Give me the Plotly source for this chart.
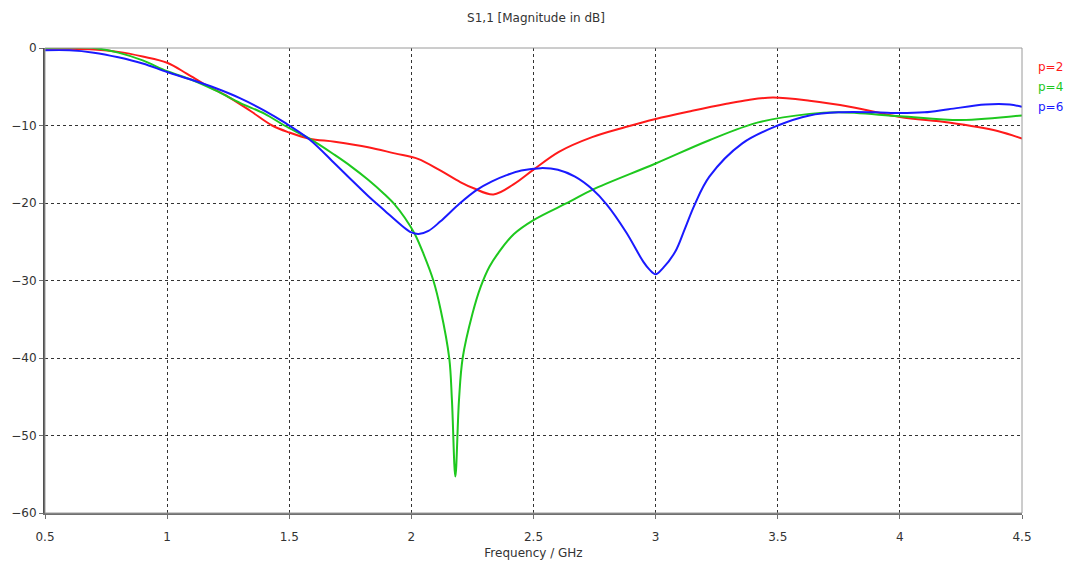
import plotly.graph_objects as go

# p=2 (red)
red_x = [0.5, 0.6, 0.7, 0.8, 0.9, 1.0, 1.08, 1.16, 1.25, 1.34, 1.43, 1.5, 1.583, 1.686, 1.823, 1.932, 2.027, 2.118, 2.2, 2.255, 2.336, 2.418, 2.5, 2.604, 2.74, 2.877, 3.0, 3.15, 3.29, 3.38, 3.48, 3.63, 3.8, 4.0, 4.2, 4.4, 4.5]
red_y = [-0.1, -0.1, -0.2, -0.5, -1.1, -1.9, -3.3, -4.8, -6.3, -8.1, -10.0, -10.9, -11.7, -12.1, -12.8, -13.6, -14.3, -15.8, -17.3, -18.1, -18.9, -17.6, -15.7, -13.4, -11.5, -10.2, -9.15, -8.1, -7.2, -6.7, -6.4, -6.8, -7.6, -8.9, -9.6, -10.7, -11.7]

# p=4 (green)
green_x = [0.5, 0.6, 0.7, 0.8, 0.9, 1.0, 1.1, 1.2, 1.3, 1.4, 1.48, 1.583, 1.686, 1.754, 1.823, 1.891, 1.932, 1.973, 2.014, 2.05, 2.09, 2.12, 2.155, 2.166, 2.18, 2.195, 2.21, 2.25, 2.284, 2.32, 2.357, 2.42, 2.5, 2.65, 2.74, 3.0, 3.22, 3.42, 3.63, 3.75, 4.0, 4.25, 4.5]
green_y = [0.0, 0.05, 0.0, -0.6, -1.6, -3.0, -4.1, -5.5, -7.1, -8.5, -10.0, -11.7, -13.8, -15.3, -17.0, -18.9, -20.2, -21.9, -24.0, -26.6, -30.0, -33.8, -40.0, -45.4, -55.3, -45.4, -40.0, -34.3, -30.8, -28.2, -26.4, -24.0, -22.2, -19.8, -18.3, -14.9, -11.9, -9.6, -8.5, -8.3, -8.8, -9.3, -8.7]

# p=6 (blue)
blue_x = [0.5, 0.6, 0.7, 0.8, 0.9, 1.0, 1.1, 1.2, 1.3, 1.4, 1.48, 1.583, 1.686, 1.754, 1.823, 1.891, 1.96, 2.0, 2.03, 2.07, 2.118, 2.2, 2.268, 2.33, 2.39, 2.45, 2.53, 2.6, 2.67, 2.74, 2.8, 2.88, 2.95, 2.975, 3.0, 3.03, 3.08, 3.12, 3.16, 3.22, 3.355, 3.5, 3.63, 3.75, 3.9, 4.0, 4.1, 4.2, 4.35, 4.45, 4.5]
blue_y = [-0.3, -0.3, -0.6, -1.2, -2.0, -3.1, -4.1, -5.2, -6.5, -8.1, -9.6, -11.8, -14.9, -17.0, -19.1, -21.0, -22.9, -23.8, -24.0, -23.6, -22.4, -20.0, -18.3, -17.2, -16.4, -15.8, -15.5, -15.7, -16.6, -18.2, -20.2, -23.8, -27.6, -28.6, -29.2, -28.4, -26.3, -23.3, -20.2, -16.6, -12.3, -10.0, -8.7, -8.3, -8.3, -8.4, -8.3, -7.9, -7.3, -7.3, -7.6]

series_names = ["p=2", "p=4", "p=6"]
series_colors = ["#ff1a1a", "#1ec81e", "#1a1aff"]

x_ticks = [0.5, 1, 1.5, 2, 2.5, 3, 3.5, 4, 4.5]
x_tick_text = ["0.5", "1", "1.5", "2", "2.5", "3", "3.5", "4", "4.5"]
y_ticks = [0, -10, -20, -30, -40, -50, -60]

FONT = "DejaVu Sans"
TXT = "#333333"

fig = go.Figure()
for (xs, ys), name, col in zip([(red_x, red_y), (green_x, green_y), (blue_x, blue_y)], series_names, series_colors):
    fig.add_trace(go.Scatter(x=xs, y=ys, mode="lines", name=name,
                             line=dict(color=col, width=2, shape="spline", smoothing=1.0),
                             showlegend=False))

# legend as coloured text
for i, (name, col) in enumerate(zip(series_names, series_colors)):
    fig.add_annotation(xref="paper", yref="paper", x=1.0, y=1 - (19 + 20 * i) / 465,
                       xanchor="left", yanchor="middle", xshift=14, width=34, align="left",
                       text=name, showarrow=False, font=dict(family=FONT, size=12, color=col))

# frame
fig.add_shape(type="rect", xref="paper", yref="paper", x0=0, y0=0, x1=1, y1=1,
              line=dict(color="#9a9a9a", width=1), layer="above")

fig.update_layout(
    width=1072, height=570,
    margin=dict(l=45, r=50, t=48, b=57),
    paper_bgcolor="white", plot_bgcolor="white",
    title=dict(text="S1,1 [Magnitude in dB]", x=0.5, xanchor="center", y=1 - 18 / 570, yanchor="middle",
               font=dict(family=FONT, size=12, color=TXT)),
    font=dict(family=FONT, size=12, color=TXT),
)
fig.update_xaxes(range=[0.5, 4.5], tickvals=x_ticks, ticktext=x_tick_text, automargin=False,
                 showgrid=True, gridcolor="#333333", griddash="dot", gridwidth=1,
                 zeroline=False, showline=True, linecolor="#707070", linewidth=2,
                 ticks="outside", ticklen=4, tickcolor="#707070", ticklabelstandoff=8,
                 title=dict(text="Frequency / GHz", font=dict(family=FONT, size=12, color=TXT), standoff=5),
                 tickfont=dict(family=FONT, size=12, color=TXT))
fig.update_yaxes(range=[-60, 0], tickvals=y_ticks, automargin=False,
                 showgrid=True, gridcolor="#333333", griddash="dot", gridwidth=1,
                 zeroline=False, showline=True, linecolor="#505050", linewidth=2,
                 ticks="outside", ticklen=4, tickcolor="#707070",
                 tickfont=dict(family=FONT, size=12, color=TXT))

fig.write_html("out.html", config={"displayModeBar": False},
               post_script="document.body.style.margin='0';document.body.style.overflow='hidden';")
